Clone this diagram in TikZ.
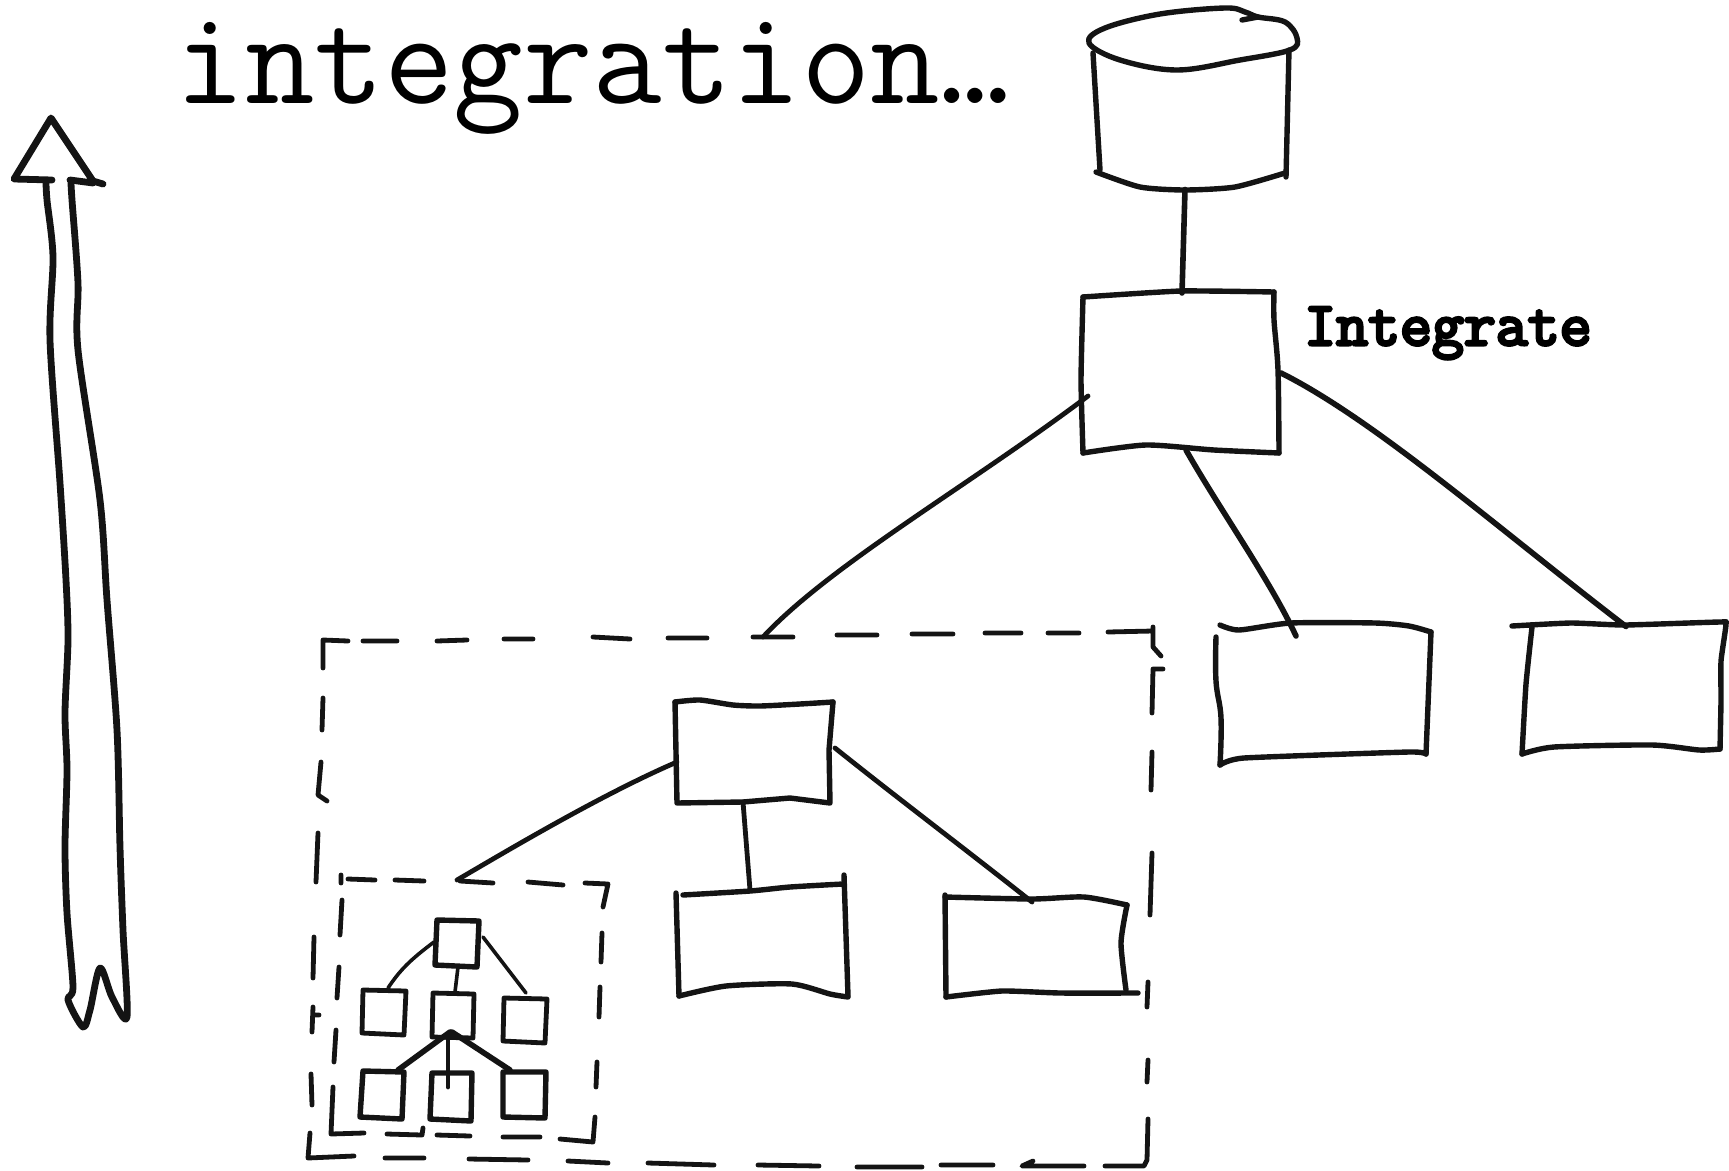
\documentclass[tikz,border=0pt]{standalone}
\usepackage{fontspec}
\newfontfamily\lblfont[FakeBold=5]{Latin Modern Mono}
\tikzset{
  anchorbox/.style={inner sep=0pt,outer sep=0pt,minimum width=#1},
  ink/.style={draw=black!92,line width=5.4pt,line cap=round,line join=round},
  fineink/.style={draw=black!92,line width=4.8pt,line cap=round,line join=round},
  shaft/.style={draw=black!92,line width=6.8pt,line cap=round,line join=round},
  lk/.style={draw=black!92,line width=4.8pt,line cap=round},
  tinylk/.style={draw=black!92,line width=3.6pt,line cap=round},
  heavylk/.style={draw=black!92,line width=5.6pt,line cap=round},
  dashstroke/.style={draw=black!92,line width=4.8pt,line cap=round,line join=round},
  titletext/.style={inner sep=0pt,anchor=base west,font=\fontsize{135}{135}\selectfont\ttfamily},
  labeltext/.style={inner sep=0pt,anchor=base west,font=\fontsize{62}{62}\selectfont\lblfont}
}
\begin{document}
\begin{tikzpicture}[x=1pt,y=-1pt]
\useasboundingbox (0,0) rectangle (1729,1170);
\fill[white] (0,0) rectangle (1729,1170);

% texts
\node[titletext] (title) at (175.5,103) {integration…};
\node[labeltext] (lab) at (1304,345) {Integrate};

% anchor nodes of the sketched shapes
\node[anchorbox=210pt,minimum height=185pt] (db) at (1190,95) {};
\node[anchorbox=194pt,minimum height=156pt] (intg) at (1180,373) {};
\node[anchorbox=208pt,minimum height=130pt] (ra) at (1325,692) {};
\node[anchorbox=205pt,minimum height=125pt] (rb) at (1620,687) {};
\node[anchorbox=836pt,minimum height=528pt] (big) at (730,897) {};
\node[anchorbox=156pt,minimum height=100pt] (mz) at (754,752) {};
\node[anchorbox=170pt,minimum height=112pt] (ma) at (762,938) {};
\node[anchorbox=182pt,minimum height=100pt] (mb) at (1035,945) {};
\node[anchorbox=268pt,minimum height=258pt] (inner) at (470,1008) {};
\node[anchorbox=42pt,minimum height=46pt] (tz) at (457,943) {};
\node[anchorbox=43pt,minimum height=44pt] (ta) at (384,1012) {};
\node[anchorbox=41pt,minimum height=44pt] (tb) at (453,1015) {};
\node[anchorbox=43pt,minimum height=44pt] (tc) at (525,1020) {};
\node[anchorbox=42pt,minimum height=48pt] (ua) at (382,1095) {};
\node[anchorbox=41pt,minimum height=48pt] (ub) at (451,1097) {};
\node[anchorbox=43pt,minimum height=46pt] (uc) at (524,1095) {};

% up arrow
\draw[shaft] (52,180) -- (14,179) -- (51,118) -- (93,181) -- (103,184) (93,183) -- (70,180);
\draw[shaft] plot[smooth,tension=.5] coordinates {(46,182) (47,200) (53,257) (50,340) (60,483) (66,580) (68,640) (65,713) (67,770) (65,847) (67,913) (73,987) (68,1000) (83,1027) (90,1010) (100,968) (112,997) (127,1017) (123,930) (120,847) (117,730) (107,600) (100,500) (78,350) (78,283) (72,200) (71,183)};

% database
\draw[ink] plot[smooth cycle,tension=.6] coordinates {(1089,43) (1105,28) (1160,14) (1225,8) (1245,12) (1258,17) (1285,22) (1297,38) (1290,50) (1240,60) (1177,70) (1120,60)};
\draw[ink] (1242,20) -- (1258,17);
\draw[ink] (1093,53) -- (1100,170);
\draw[ink] (1289,50) -- (1286,177);
\draw[ink] plot[smooth,tension=.4] coordinates {(1096,172) (1140,187) (1185,190) (1235,187) (1285,173)};

% integrate box
\draw[ink] plot[smooth,tension=.3] coordinates {(1083,297) (1181,291) (1274,292)};
\draw[ink] plot[smooth,tension=.3] coordinates {(1083,297) (1081,380) (1083,453)};
\draw[ink] plot[smooth,tension=.5] coordinates {(1274,292) (1274,320) (1278,370) (1279,453)};
\draw[ink] plot[smooth,tension=.4] coordinates {(1083,453) (1146,445) (1214,450) (1279,453)};

% right boxes
\draw[ink] plot[smooth,tension=.4] coordinates {(1220,625) (1239,630) (1291,623) (1375,623) (1409,626) (1431,632)};
\draw[ink] (1431,632) -- (1426,754);
\draw[ink] plot[smooth,tension=.3] coordinates {(1426,754) (1409,752) (1244,758) (1220,765)};
\draw[ink] plot[smooth,tension=.7] coordinates {(1220,765) (1221,718) (1216,681) (1216,637)};
\draw[ink] plot[smooth,tension=.3] coordinates {(1512,626) (1571,623) (1625,625) (1720,622) (1726,624) (1721,661) (1721,701) (1720,749)};
\draw[ink] plot[smooth,tension=.4] coordinates {(1720,749) (1699,750) (1652,745) (1554,747) (1522,754)};
\draw[ink] plot[smooth,tension=.3] coordinates {(1522,754) (1526,684) (1532,627)};

% middle boxes
\draw[ink] plot[smooth,tension=.4] coordinates {(675,702) (700,700) (733,705) (760,706) (800,704) (833,702)};
\draw[ink] (675,702) -- (677,803) -- (743,802) -- (790,798) -- (830,803) -- (829,750) -- (833,702);
\draw[ink] (676,893) -- (679,996);
\draw[ink] plot[smooth,tension=.4] coordinates {(683,895) (750,891) (790,887) (843,884)};
\draw[ink] (844,875) -- (848,996);
\draw[ink] plot[smooth,tension=.4] coordinates {(679,996) (726,986) (792,984) (830,994) (848,997)};
\draw[ink] (945,895) -- (946,997);
\draw[ink] plot[smooth,tension=.4] coordinates {(945,897) (1032,899) (1084,897) (1127,905)};
\draw[ink] plot[smooth,tension=.4] coordinates {(1127,905) (1121,943) (1126,990)};
\draw[ink] plot[smooth,tension=.3] coordinates {(946,997) (1002,991) (1060,993) (1138,993)};

% tiny boxes
\draw[ink] (437,920) -- (479,921) -- (477,967) -- (435,965) -- cycle;
\draw[fineink] (363,990) -- (406,991) -- (404,1035) -- (362,1033) -- cycle;
\draw[fineink] (433,993) -- (474,994) -- (473,1038) -- (432,1037) -- cycle;
\draw[fineink] (504,998) -- (547,999) -- (545,1043) -- (503,1041) -- cycle;
\draw[ink] (363,1071) -- (404,1072) -- (402,1119) -- (360,1117) -- cycle;
\draw[ink] (432,1073) -- (472,1073) -- (471,1121) -- (430,1119) -- cycle;
\draw[ink] (503,1072) -- (546,1072) -- (545,1118) -- (503,1117) -- cycle;

% connectors
\draw[heavylk] ([shift={(-5,2)}]db.south) -- ([shift={(2,-2)}]intg.north);
\draw[lk] ([shift={(5,23)}]intg.west) .. controls (970,485) and (830,565) .. ([shift={(33,4)}]big.north);
\draw[heavylk] ([shift={(6,-1)}]intg.south) .. controls (1220,510) and (1270,580) .. ([shift={(-29,9)}]ra.north);
\draw[heavylk] ([shift={(4,0)}]intg.east) .. controls (1375,420) and (1500,530) .. ([shift={(6,2)}]rb.north);
\draw[lk] ([shift={(1,10)}]mz.west) .. controls (600,795) and (500,855) .. ([shift={(-13,1)}]inner.north);
\draw[lk] ([shift={(-11,0)}]mz.south) -- ([shift={(-12,8)}]ma.north);
\draw[lk] ([shift={(3,-4)}]mz.east) .. controls (900,800) and (960,845) .. ([shift={(-3,7)}]mb.north);
\draw[tinylk] ([shift={(-2,-1)}]tz.west) .. controls (410,960) and (400,970) .. ([shift={(4,-2)}]ta.north);
\draw[tinylk] ([shift={(1,1)}]tz.south) -- ([shift={(2,-1)}]tb.north);
\draw[tinylk] ([shift={(5,-6)}]tz.east) -- ([shift={(1,-5)}]tc.north);
\draw[heavylk] ([shift={(-3,-5)}]tb.south) -- ([shift={(16,-1)}]ua.north);
\draw[lk] ([shift={(-5,-2)}]tb.south) -- ([shift={(-3,14)}]ub.north);
\draw[heavylk] ([shift={(-1,-5)}]tb.south) -- ([shift={(-14,-2)}]uc.north);

% big dashed frame
\draw[dashstroke] (323,668) -- (323,640) -- (348,641);
\draw[dashstroke] (363,641) -- (397,641) (437,641) -- (467,640) (504,639) -- (533,639)
  (593,637) -- (630,639) (668,638) -- (707,638) (753,637) -- (793,637)
  (837,635) -- (877,635) (912,634) -- (953,634) (985,633) -- (1021,633) (1048,633) -- (1079,633);
\draw[dashstroke] (1108,632) -- (1153,631) (1153,627) -- (1153,647) -- (1161,656);
\draw[dashstroke] (1163,669) -- (1153,669) -- (1152,713);
\draw[dashstroke] (1152,752) -- (1151,790) (1152,853) -- (1150,915) (1148,982) -- (1147,1007) (1148,1060) -- (1147,1082);
\draw[dashstroke] (1148,1119) -- (1147,1160) -- (1144,1166) -- (1105,1166);
\draw[dashstroke] (1033,1161) -- (1022,1166) -- (1084,1166);
\draw[dashstroke] (993,1165) -- (941,1165) (922,1167) -- (857,1167) (819,1166) -- (758,1165) (714,1165) -- (648,1163)
  (608,1163) -- (568,1161) (528,1160) -- (469,1159) (424,1158) -- (385,1158);
\draw[dashstroke] (354,1156) -- (308,1158) -- (310,1133);
\draw[dashstroke] (312,1105) -- (311,1074) (312,1032) -- (313,1007) (313,1015) -- (319,1015) (313,978) -- (314,937) (316,882) -- (318,833);
\draw[dashstroke] (327,801) -- (318,795) -- (321,762);
\draw[dashstroke] (322,730) -- (323,698);

% inner dashed frame
\draw[dashstroke] (341,875) -- (341,883) (348,879) -- (375,880) (395,880) -- (424,881) (460,881) -- (493,883) (528,882) -- (563,885);
\draw[dashstroke] (585,883) -- (608,884) -- (603,907);
\draw[dashstroke] (602,933) -- (601,962) (600,987) -- (599,1017) (597,1062) -- (596,1087);
\draw[dashstroke] (595,1117) -- (593,1142) -- (560,1139);
\draw[dashstroke] (540,1137) -- (503,1137) (470,1136) -- (437,1135);
\draw[dashstroke] (423,1128) -- (422,1135) -- (387,1134);
\draw[dashstroke] (364,1133) -- (331,1134) -- (333,1087);
\draw[dashstroke] (334,1062) -- (336,1030) (337,998) -- (339,967) (340,935) -- (342,900);
\end{tikzpicture}
\end{document}
